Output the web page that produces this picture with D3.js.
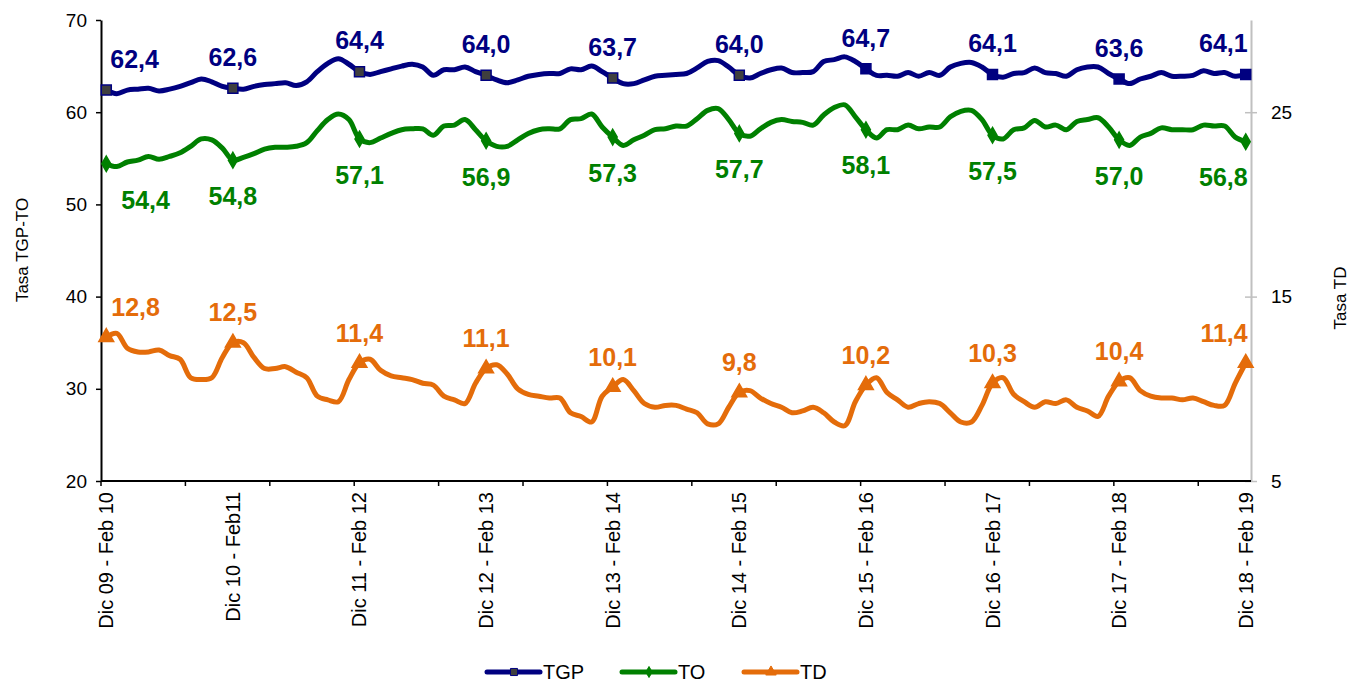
<!DOCTYPE html>
<html>
<head>
<meta charset="utf-8">
<script src="https://cdn.jsdelivr.net/npm/d3@7/dist/d3.min.js"></script>
<style>
  body { margin: 0; background: #fff; }
  svg text { font-family: Arial, "Liberation Sans", sans-serif; }
</style>
</head>
<body>
<svg id="chart" width="1351" height="684"></svg>
<script>
// trimestres moviles, dic 09 - feb 10 ... dic 18 - feb 19 (109 periodos)
const tickLabels = [
  'Dic 09 - Feb 10', 'Dic 10 - Feb11', 'Dic 11 - Feb 12', 'Dic 12 - Feb 13', 'Dic 13 - Feb 14',
  'Dic 14 - Feb 15', 'Dic 15 - Feb 16', 'Dic 16 - Feb 17', 'Dic 17 - Feb 18', 'Dic 18 - Feb 19',
];
const labelIdx = [0, 12, 24, 36, 48, 60, 72, 84, 96, 108];

const tgp = [
  62.4, 62.0, 62.4, 62.5, 62.6, 62.3, 62.5, 62.8, 63.2, 63.6, 63.3, 62.8,
  62.6, 62.5, 62.8, 63.0, 63.1, 63.2, 62.9, 63.3, 64.4, 65.3, 65.8, 65.2,
  64.4, 64.1, 64.4, 64.7, 65.0, 65.2, 64.9, 64.0, 64.6, 64.6, 64.9, 64.4,
  64.0, 63.5, 63.2, 63.5, 63.9, 64.1, 64.2, 64.2, 64.7, 64.6, 65.0, 64.4,
  63.7, 63.1, 63.1, 63.5, 63.9, 64.0, 64.1, 64.2, 64.8, 65.5, 65.6, 64.9,
  64.0, 63.7, 64.2, 64.6, 64.8, 64.3, 64.3, 64.4, 65.5, 65.7, 66.0, 65.5,
  64.7, 64.0, 64.0, 63.9, 64.3, 63.9, 64.3, 64.0, 64.9, 65.3, 65.4, 64.9,
  64.1, 63.8, 64.2, 64.3, 64.8, 64.3, 64.2, 63.9, 64.6, 64.9, 64.9, 64.2,
  63.6, 63.1, 63.6, 63.9, 64.3, 63.9, 63.9, 64.0, 64.5, 64.2, 64.3, 63.9,
  64.1,
];

const to = [
  54.4, 54.1, 54.6, 54.8, 55.2, 54.9, 55.2, 55.6, 56.3, 57.1, 57.0, 56.1,
  54.8, 55.1, 55.5, 56.0, 56.2, 56.2, 56.3, 56.7, 58.0, 59.2, 59.8, 59.2,
  57.1, 56.7, 57.2, 57.7, 58.1, 58.2, 58.2, 57.5, 58.5, 58.6, 59.2, 58.1,
  56.9, 56.3, 56.3, 57.0, 57.7, 58.1, 58.2, 58.2, 59.2, 59.3, 59.8, 58.4,
  57.3, 56.4, 57.0, 57.5, 58.1, 58.2, 58.5, 58.5, 59.3, 60.2, 60.4, 59.2,
  57.7, 57.4, 58.2, 58.9, 59.2, 59.0, 58.9, 58.6, 59.7, 60.5, 60.8, 59.5,
  58.1, 57.2, 58.1, 58.1, 58.6, 58.2, 58.4, 58.4, 59.5, 60.1, 60.2, 59.2,
  57.5, 57.1, 58.1, 58.3, 59.1, 58.4, 58.6, 58.1, 59.0, 59.2, 59.4, 58.4,
  57.0, 56.4, 57.3, 57.7, 58.3, 58.1, 58.1, 58.1, 58.6, 58.5, 58.5, 57.3,
  56.8,
];

const td = [
  12.8, 13.0, 12.2, 12.0, 12.0, 12.1, 11.8, 11.6, 10.6, 10.5, 10.6, 11.7,
  12.5, 12.5, 11.7, 11.1, 11.1, 11.2, 10.9, 10.6, 9.6, 9.4, 9.3, 10.5,
  11.4, 11.6, 11.0, 10.7, 10.6, 10.5, 10.3, 10.2, 9.6, 9.4, 9.2, 10.3,
  11.1, 11.3, 10.8, 10.0, 9.7, 9.6, 9.5, 9.5, 8.7, 8.5, 8.2, 9.6,
  10.1, 10.5, 9.9, 9.2, 9.0, 9.1, 9.1, 8.9, 8.7, 8.1, 8.1, 9.0,
  9.8, 9.9, 9.5, 9.2, 9.0, 8.7, 8.8, 9.0, 8.7, 8.2, 8.0, 9.3,
  10.2, 10.6, 9.8, 9.4, 9.0, 9.2, 9.3, 9.2, 8.7, 8.2, 8.2, 9.1,
  10.3, 10.6, 9.7, 9.3, 9.0, 9.3, 9.2, 9.4, 9.0, 8.8, 8.5, 9.6,
  10.4, 10.6, 9.9, 9.6, 9.5, 9.5, 9.4, 9.5, 9.3, 9.1, 9.1, 10.3,
  11.4,
];

const leftTicks = [20, 30, 40, 50, 60, 70];
const rightTicks = [5, 15, 25];

const svg = d3.select('#chart');
const plot = { left: 101, right: 1251, top: 20, bottom: 481 };

const x = d3.scalePoint()
  .domain(d3.range(tgp.length))
  .range([plot.left, plot.right])
  .padding(0.5);
const yL = d3.scaleLinear().domain([20, 70]).range([plot.bottom, plot.top]);
const yR = d3.scaleLinear().domain([5, 30]).range([plot.bottom, plot.top]);

const fmt = v => d3.format('.1f')(v).replace('.', ',');

// eje derecho (gris)
const axR = svg.append('g')
  .attr('transform', `translate(${plot.right},0)`)
  .call(d3.axisRight(yR).tickValues(rightTicks).tickSize(6).tickSizeOuter(0).tickPadding(14));
axR.select('.domain').attr('stroke', '#c0c0c0').attr('stroke-width', 2);
axR.selectAll('.tick line').attr('x1', -6).attr('stroke', '#c0c0c0').attr('stroke-width', 1.5);
axR.selectAll('.tick text').attr('font-size', 19).attr('fill', '#000').style('font-family', 'Arial, "Liberation Sans", sans-serif');

// eje izquierdo
const axL = svg.append('g')
  .attr('transform', `translate(${plot.left},0)`)
  .call(d3.axisLeft(yL).tickValues(leftTicks).tickSize(5).tickSizeOuter(0).tickPadding(9));
axL.select('.domain').attr('stroke', '#000').attr('stroke-width', 2);
axL.selectAll('.tick line').attr('stroke', '#000').attr('stroke-width', 1.5);
axL.selectAll('.tick text').attr('font-size', 19).attr('fill', '#000').style('font-family', 'Arial, "Liberation Sans", sans-serif');

// eje x: marcas cada 8 periodos, en los limites de categoria
svg.append('line')
  .attr('x1', plot.left).attr('x2', plot.right)
  .attr('y1', plot.bottom).attr('y2', plot.bottom)
  .attr('stroke', '#000').attr('stroke-width', 2);

svg.append('g')
  .selectAll('line')
  .data(d3.range(0, tgp.length, 8))
  .join('line')
  .attr('x1', k => plot.left + k * x.step())
  .attr('x2', k => plot.left + k * x.step())
  .attr('y1', plot.bottom)
  .attr('y2', plot.bottom + 5)
  .attr('stroke', '#000')
  .attr('stroke-width', 1.5);

svg.append('g')
  .selectAll('text')
  .data(labelIdx)
  .join('text')
  .attr('transform', i => `translate(${x(i) + 7},492) rotate(-90)`)
  .attr('text-anchor', 'end')
  .attr('font-size', 20)
  .text((i, k) => tickLabels[k]);

// titulos de ejes
svg.append('text')
  .attr('transform', 'translate(28,250) rotate(-90)')
  .attr('text-anchor', 'middle')
  .attr('font-size', 17)
  .text('Tasa TGP-TO');

svg.append('text')
  .attr('transform', 'translate(1346,298) rotate(-90)')
  .attr('text-anchor', 'middle')
  .attr('font-size', 17)
  .text('Tasa TD');

const series = [
  { name: 'TGP', values: tgp, y: yL, color: '#000080', symbol: d3.symbolSquare, size: 100, labelDy: -31, firstDx: 4 },
  { name: 'TO', values: to, y: yL, color: '#008000', symbol: d3.symbolDiamond, size: 70, labelDy: 36, firstDx: 15 },
  { name: 'TD', values: td, y: yR, color: '#e46c0a', symbol: d3.symbolTriangle, size: 95, labelDy: -30, firstDx: 5 },
];

const markerFill = (s, i) => {
  if (s.name === 'TGP') return i < 72 ? '#3f3f3f' : s.color;
  return s.color;
};

series.forEach((s) => {
  const line = d3.line()
    .x((d, i) => x(i))
    .y(d => s.y(d))
    .curve(d3.curveCatmullRom.alpha(0.5));

  svg.append('path')
    .datum(s.values)
    .attr('fill', 'none')
    .attr('stroke', s.color)
    .attr('stroke-width', 5)
    .attr('stroke-linejoin', 'round')
    .attr('stroke-linecap', 'round')
    .attr('d', line);

  svg.append('g')
    .selectAll('path')
    .data(labelIdx)
    .join('path')
    .attr('transform', i => `translate(${x(i)},${s.y(s.values[i])})`)
    .attr('d', d3.symbol().type(s.symbol).size(s.size))
    .attr('fill', i => markerFill(s, i))
    .attr('stroke', s.color)
    .attr('stroke-width', 1.5);

  const last = s.values.length - 1;
  svg.append('g')
    .selectAll('text')
    .data(labelIdx)
    .join('text')
    .attr('x', (i) => {
      if (i === 0) return x(i) + s.firstDx;
      if (i === last) return x(i) + 2;
      return x(i);
    })
    .attr('y', i => s.y(s.values[i]) + s.labelDy)
    .attr('dy', '0.35em')
    .attr('text-anchor', (i) => {
      if (i === 0) return 'start';
      if (i === last) return 'end';
      return 'middle';
    })
    .attr('font-size', 25)
    .attr('font-weight', 'bold')
    .attr('fill', s.color)
    .text(i => fmt(s.values[i]));
});

// leyenda
const legendPos = [487, 622, 744];
const legend = svg.append('g')
  .selectAll('g')
  .data(series)
  .join('g')
  .attr('transform', (s, k) => `translate(${legendPos[k]},672)`);

legend.append('line')
  .attr('x1', 0).attr('x2', 53)
  .attr('stroke', s => s.color)
  .attr('stroke-width', 5)
  .attr('stroke-linecap', 'round');

legend.append('path')
  .attr('transform', 'translate(27,0)')
  .attr('d', s => d3.symbol().type(s.symbol).size(s.size * 0.5)())
  .attr('fill', s => (s.name === 'TGP' ? '#3f3f3f' : s.color))
  .attr('stroke', s => s.color)
  .attr('stroke-width', 1);

legend.append('text')
  .attr('x', 56)
  .attr('dy', '0.35em')
  .attr('font-size', 20)
  .text(s => s.name);
</script>
</body>
</html>
